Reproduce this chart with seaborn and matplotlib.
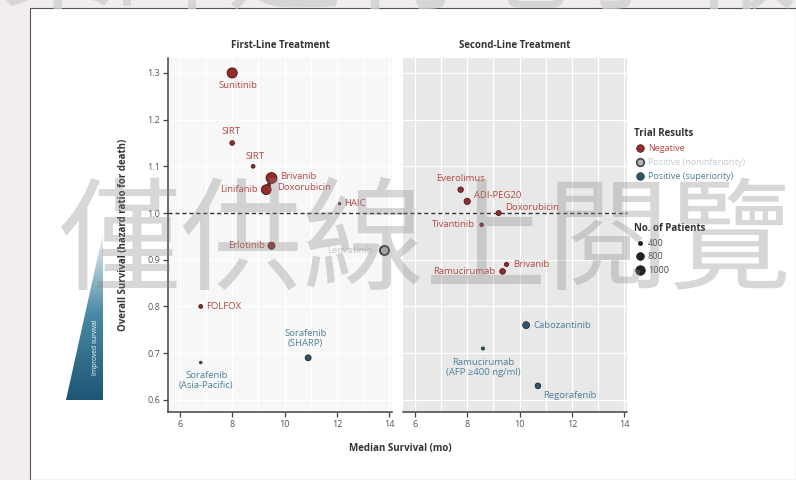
import numpy as np
import pandas as pd
import matplotlib
matplotlib.use("Agg")
import matplotlib.pyplot as plt
import seaborn as sns
from matplotlib.lines import Line2D
from matplotlib.patches import Polygon, Rectangle
from matplotlib.colors import LinearSegmentedColormap
from matplotlib.ticker import MultipleLocator

# ---------------- data ----------------
first_drugs = ["Sunitinib", "SIRT", "SIRT", "Brivanib", "Doxorubicin", "Linifanib", "HAIC",
               "Erlotinib", "Lenvatinib", "FOLFOX", "Sorafenib\n(SHARP)", "Sorafenib\n(Asia-Pacific)"]
first_median = [8.0, 8.0, 8.8, 9.5, 9.4, 9.3, 12.1, 9.5, 13.8, 6.8, 10.9, 6.8]
first_hr = [1.30, 1.15, 1.10, 1.075, 1.06, 1.05, 1.02, 0.93, 0.92, 0.80, 0.69, 0.68]
first_n = [1074, 459, 360, 1155, 346, 1035, 205, 720, 954, 371, 602, 226]
first_result = ["Negative"] * 8 + ["Positive (noninferiority)", "Negative",
                                   "Positive (superiority)", "Positive (superiority)"]

second_drugs = ["Everolimus", "ADI-PEG20", "Doxorubicin", "Tivantinib", "Brivanib", "Ramucirumab",
                "Cabozantinib", "Ramucirumab\n(AFP \u2265400 ng/ml)", "Regorafenib"]
second_median = [7.75, 8.0, 9.2, 8.55, 9.5, 9.35, 10.25, 8.6, 10.7]
second_hr = [1.05, 1.025, 1.00, 0.975, 0.89, 0.875, 0.76, 0.71, 0.63]
second_n = [546, 635, 500, 340, 395, 565, 707, 292, 573]
second_result = ["Negative"] * 6 + ["Positive (superiority)"] * 3

result_levels = ["Negative", "Positive (noninferiority)", "Positive (superiority)"]
legend_sizes = [400, 800, 1000]
x_ticks = [6, 8, 10, 12, 14]
y_ticks = [0.6, 0.7, 0.8, 0.9, 1.0, 1.1, 1.2, 1.3]

# label placement (offset in points, horizontal alignment)
first_off = [(4, -9, "center"), (-1, 8, "center"), (1, 7, "center"), (6, 1, "left"),
             (6, -2, "left"), (-6, 0, "right"), (3, 0, "left"), (-5, 0, "right"),
             (-8, 0, "right"), (4, 0, "left"), (-2, 14, "center"), (4, -13, "center")]
second_off = [(0, 8, "center"), (5, 4, "left"), (5, 4, "left"), (-5, 0, "right"),
              (5, 0, "left"), (-5.5, 0, "right"), (5.5, 0, "left"), (0, -14, "center"),
              (3.5, -7, "left")]

# ---------------- styles ----------------
FONT = ["Open Sans", "DejaVu Sans"]
style = {
    "Negative": dict(face="#962b2b", edge="#4a1515", lw=0.6, text="#b8473f"),
    "Positive (noninferiority)": dict(face="#a9b3ba", edge="#3d3d3d", lw=1.4, text="#c3ccd3"),
    "Positive (superiority)": dict(face="#2f5566", edge="#1b2f38", lw=0.6, text="#4f7f9b"),
}


def area(n):
    d_px = 0.5 + 0.009 * np.asarray(n, dtype=float)
    return (d_px * 72 / 100) ** 2


sns.set_theme(style="white")
plt.rcParams["font.family"] = FONT

W, H = 796, 480
fig = plt.figure(figsize=(W / 100, H / 100), dpi=100)
fig.patch.set_facecolor("#f1edef")
fig.add_artist(Rectangle((30 / W, 0), 1 - 30 / W, 1 - 8 / H, transform=fig.transFigure,
                         facecolor="white", edgecolor="#555555", lw=0.8, zorder=0))

ax_l = fig.add_axes([168 / W, 68 / H, 224 / W, 354 / H])
ax_r = fig.add_axes([403 / W, 68 / H, 224 / W, 354 / H])

panels = [
    (ax_l, "First-Line Treatment", first_drugs, first_median, first_hr, first_n, first_result, first_off, "#f7f7f7"),
    (ax_r, "Second-Line Treatment", second_drugs, second_median, second_hr, second_n, second_result, second_off, "#e8e8e8"),
]

for ax, title, drugs, med, hr, n, res, offs, bg in panels:
    df = pd.DataFrame({"drug": drugs, "median": med, "hr": hr, "n": n, "result": res})
    df["area"] = area(df["n"])
    ax.set_facecolor(bg)
    for lev in result_levels:
        sub = df[df["result"] == lev]
        if sub.empty:
            continue
        st = style[lev]
        sns.scatterplot(data=sub, x="median", y="hr", size="area", sizes=(0, 200), size_norm=(0, 200),
                        color=st["face"], edgecolor=st["edge"], linewidth=st["lw"], legend=False,
                        ax=ax, zorder=4)
    for i, row in df.iterrows():
        dx, dy, ha = offs[i]
        ax.annotate(row["drug"], (row["median"], row["hr"]), xytext=(dx, dy), textcoords="offset points",
                    ha=ha, va="center", fontsize=6.8, color=style[row["result"]]["text"],
                    multialignment="center", zorder=5, linespacing=1.15)
    ax.set_xlim(5.55, 14.1)
    ax.set_ylim(0.574, 1.332)
    ax.set_xticks(x_ticks)
    ax.set_yticks(y_ticks)
    ax.xaxis.set_minor_locator(MultipleLocator(1))
    ax.grid(True, which="both", axis="x", color="white", lw=0.9, zorder=0)
    ax.grid(True, which="major", axis="y", color="white", lw=0.9, zorder=0)
    ax.set_axisbelow(True)
    ax.set_xlabel("")
    ax.set_ylabel("")
    ax.set_title(title, fontsize=7, fontweight="bold", color="#333333", pad=7)
    for s in ["top", "right"]:
        ax.spines[s].set_visible(False)
    ax.spines["bottom"].set_color("#444444")
    ax.spines["bottom"].set_linewidth(1.1)
    ax.tick_params(axis="x", which="major", direction="out", length=3.5, width=0.9, color="#444444",
                   labelsize=6.5, labelcolor="#555555", pad=2, bottom=True)
    ax.tick_params(axis="x", which="minor", length=0)
    ax.set_xticklabels([str(t) for t in x_ticks])
    ax.axhline(1.0, color="#333333", lw=1.0, ls=(0, (3, 2)), zorder=3,
               xmax=1.05 if ax is ax_l else 1.0, clip_on=False)

ax_l.spines["left"].set_color("#444444")
ax_l.spines["left"].set_linewidth(1.1)
ax_l.tick_params(axis="y", direction="out", length=3.5, width=0.9, color="#444444",
                 labelsize=6.5, labelcolor="#555555", pad=2, left=True)
ax_l.set_yticklabels([f"{t:.1f}" for t in y_ticks])
ax_r.spines["left"].set_visible(False)
ax_r.tick_params(axis="y", left=False, labelleft=False)

ax_l.set_ylabel("Overall Survival (hazard ratio for death)", fontsize=7, fontweight="bold", color="#333333")
ax_l.yaxis.set_label_coords(-0.175, 0.5)
fig.text(400 / W, 1 - 449 / H, "Median Survival (mo)", fontsize=7, fontweight="bold",
         color="#333333", ha="center", va="center")

# ---------------- legends ----------------
res_handles = [Line2D([], [], ls="", marker="o", markersize=5.5, markerfacecolor=style[l]["face"],
                      markeredgecolor=style[l]["edge"], markeredgewidth=style[l]["lw"] * 0.8)
               for l in result_levels]
leg1 = fig.legend(res_handles, result_levels, loc="upper left", bbox_to_anchor=(628 / W, 1 - 122 / H),
                  frameon=False, title="Trial Results", fontsize=6.5, title_fontsize=7,
                  alignment="left", handletextpad=0.3, labelspacing=0.55, handlelength=1.2,
                  borderpad=0.2)
leg1.get_title().set_fontweight("bold")
leg1.get_title().set_color("#333333")
for t, l in zip(leg1.get_texts(), result_levels):
    t.set_color(style[l]["text"])

size_handles = [Line2D([], [], ls="", marker="o", markersize=np.sqrt(area(v)), markerfacecolor="#222222",
                       markeredgecolor="#111111", markeredgewidth=0.5) for v in legend_sizes]
leg2 = fig.legend(size_handles, [str(v) for v in legend_sizes], loc="upper left",
                  bbox_to_anchor=(628 / W, 1 - 217 / H), frameon=False, title="No. of Patients",
                  fontsize=6.5, title_fontsize=7, alignment="left", handletextpad=0.3,
                  labelspacing=0.5, handlelength=1.2, borderpad=0.2)
leg2.get_title().set_fontweight("bold")
leg2.get_title().set_color("#333333")
for t in leg2.get_texts():
    t.set_color("#444444")

# ---------------- improved survival wedge ----------------
ax_w = fig.add_axes([60 / W, 78 / H, 50 / W, 177 / H])
ax_w.set_xlim(0, 50)
ax_w.set_ylim(0, 177)
ax_w.axis("off")
cmap = LinearSegmentedColormap.from_list("wedge", ["#1b5573", "#4a8aa6", "#ffffff"])
grad = np.linspace(0, 1, 256).reshape(-1, 1)
im = ax_w.imshow(grad, cmap=cmap, extent=[0, 50, 0, 177], origin="lower", aspect="auto")
tri = Polygon([[43, 169], [43, 2], [6, 2]], closed=True, transform=ax_w.transData, fc="none", ec="none")
ax_w.add_patch(tri)
im.set_clip_path(tri)
ax_w.text(36, 55, "Improved survival", rotation=90, color="white", fontsize=4.8,
          ha="center", va="center")

# ---------------- watermark ----------------
fig.text(0.0, 1 - 26 / H, "藥師週刊電子報", fontsize=82, color="#cfcfcf", alpha=0.8,
         ha="left", va="bottom", family=["Noto Sans CJK TC", "DejaVu Sans"], zorder=10)
fig.text(425 / W, 1 - 245 / H, "僅供線上閱覽", fontsize=88, color="#888888", alpha=0.33,
         ha="center", va="center", family=["Noto Sans CJK TC", "DejaVu Sans"], zorder=10)

fig.savefig("out.png", dpi=100, facecolor=fig.get_facecolor())
